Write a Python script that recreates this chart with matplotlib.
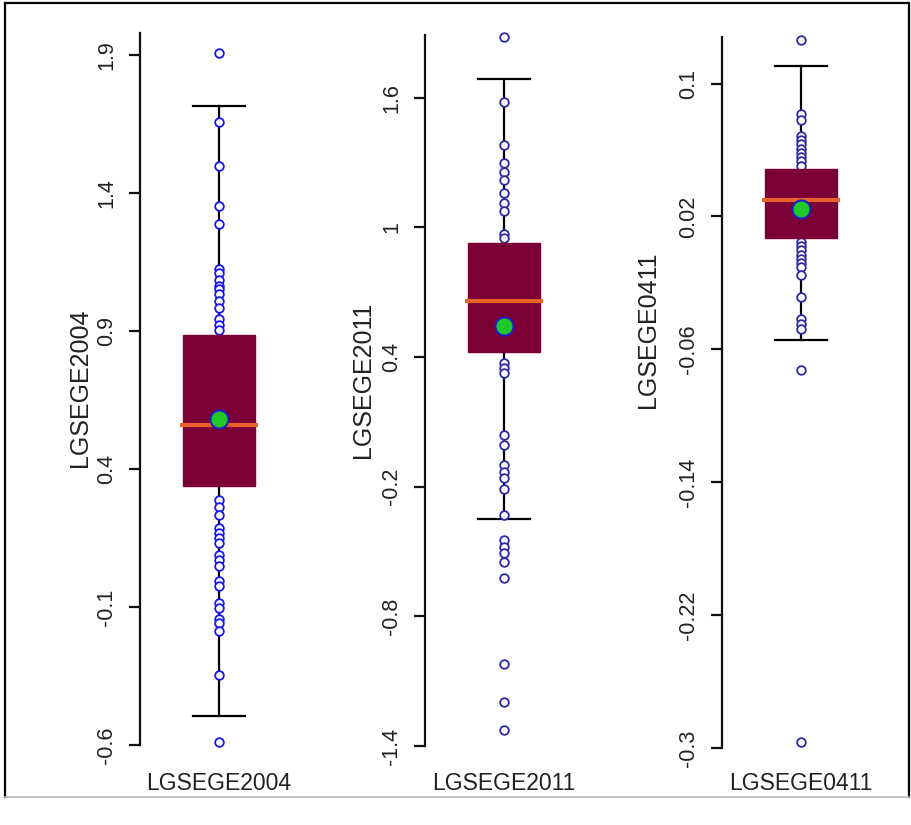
import matplotlib.pyplot as plt
from matplotlib.lines import Line2D

plt.rcParams['font.family'] = ['Liberation Sans', 'DejaVu Sans']

# series names
names = ['LGSEGE2004', 'LGSEGE2011', 'LGSEGE0411']

# box statistics
q1 = [0.337, 0.424, 0.0072]
med = [0.559, 0.657, 0.0296]
q3 = [0.887, 0.929, 0.0483]
whis_lo = [-0.494, -0.35, -0.0546]
whis_hi = [1.714, 1.687, 0.1108]
means = [0.581, 0.544, 0.0246]

# visible observations (points hidden behind the boxes are left out)
pts_2004 = [1.907, 1.657, 1.499, 1.353, 1.289, 1.124, 1.109, 1.085, 1.062, 1.051,
            1.033, 1.010, 0.985, 0.945, 0.923, 0.905, 0.286, 0.264, 0.235, 0.187,
            0.169, 0.151, 0.132, 0.089, 0.071, 0.049, -0.006, -0.024, -0.086,
            -0.104, -0.144, -0.159, -0.188, -0.348, -0.588]
pts_2011 = [1.881, 1.578, 1.382, 1.298, 1.254, 1.220, 1.159, 1.112, 1.074, 0.969,
            0.950, 0.372, 0.350, 0.327, 0.040, -0.006, -0.099, -0.130, -0.160,
            -0.211, -0.330, -0.446, -0.477, -0.508, -0.547, -0.624, -1.020,
            -1.195, -1.326]
pts_0411 = [0.126, 0.0818, 0.0783, 0.0687, 0.0661, 0.0637, 0.0607, 0.0581, 0.0557,
            0.0531, 0.0505, 0.0045, 0.0019, -0.0005, -0.003, -0.0055, -0.0081,
            -0.0105, -0.0155, -0.0286, -0.0416, -0.045, -0.0476, -0.0727, -0.2963]
points = [pts_2004, pts_2011, pts_0411]

# axis ticks and limits
yticks = [[-0.6, -0.1, 0.4, 0.9, 1.4, 1.9],
          [-1.4, -0.8, -0.2, 0.4, 1.0, 1.6],
          [-0.3, -0.22, -0.14, -0.06, 0.02, 0.1]]
ytick_labels = [['-0.6', '-0.1', '0.4', '0.9', '1.4', '1.9'],
                ['-1.4', '-0.8', '-0.2', '0.4', '1', '1.6'],
                ['-0.3', '-0.22', '-0.14', '-0.06', '0.02', '0.1']]
ylims = [(-0.6, 1.98), (-1.4, 1.89), (-0.3, 0.128)]

W, H = 912, 825
fig = plt.figure(figsize=(W / 100, H / 100), dpi=100)

# panel placement in pixels: spine x, top y, bottom y, ylabel x, ylabel centre y
panels = [(140, 33, 745, 80, 388), (425, 35, 746, 363, 380), (722, 37, 748, 648, 330)]
pw = 158

box_col = '#7B0036'
pt_cols = ['#1515F5', '#2A2AA5', '#2A2AA5']

for i, (sx, top, bot, lx, ly) in enumerate(panels):
    ax = fig.add_axes([sx / W, 1 - bot / H, pw / W, (bot - top) / H])
    ax.set_xlim(0.5, 1.5)
    ax.set_ylim(*ylims[i])

    # strip of observations on the centre line
    ax.plot([1] * len(points[i]), points[i], 'o', ms=6.2, mfc='white',
            mec=pt_cols[i], mew=1.3, zorder=3, clip_on=False)

    stats = [dict(med=med[i], q1=q1[i], q3=q3[i], whislo=whis_lo[i],
                  whishi=whis_hi[i], fliers=[])]
    ax.bxp(stats, positions=[1], widths=0.456, patch_artist=True, showfliers=False,
           boxprops=dict(facecolor=box_col, edgecolor=box_col, linewidth=1),
           whiskerprops=dict(color='black', linewidth=1.6),
           capprops=dict(color='black', linewidth=1.6),
           medianprops=dict(color='none'), capwidths=0.33)
    for art in ax.patches:
        art.set_zorder(4)
    for ln in ax.lines[1:]:
        ln.set_zorder(2)

    # median line, a bit wider than the box
    ax.plot([1 - 0.247, 1 + 0.247], [med[i], med[i]], color='#E8632A', lw=3,
            solid_capstyle='butt', zorder=5)
    # mean marker
    ax.plot([1], [means[i]], 'o', ms=13, mfc='#22C82A', mec='#2020C0', mew=1.5,
            zorder=6)

    for s in ['top', 'right', 'bottom']:
        ax.spines[s].set_visible(False)
    ax.spines['left'].set_linewidth(1.6)
    ax.spines['left'].set_color('#111111')
    ax.set_xticks([])
    ax.set_yticks(yticks[i])
    ax.set_yticklabels(ytick_labels[i])
    ax.tick_params(axis='y', length=8, width=1.6, pad=16, labelsize=15.5,
                   labelrotation=90, labelcolor='#222222', color='#111111')
    for lab in ax.get_yticklabels():
        lab.set_va('center')
        lab.set_ha('center')

    fig.text(lx / W, 1 - ly / H, names[i], rotation=90, ha='center', va='center',
             fontsize=18, color='#222222')
    fig.text((sx + 79) / W, 1 - 784 / H, names[i], ha='center', va='center',
             fontsize=16.5, color='#222222')

# outer frame of the original screenshot
fig.add_artist(Line2D([5 / W, 909 / W], [1 - 3 / H, 1 - 3 / H], color='black', lw=1.6))
fig.add_artist(Line2D([5 / W, 5 / W], [1 - 3 / H, 1 - 797 / H], color='black', lw=1.6))
fig.add_artist(Line2D([909 / W, 909 / W], [1 - 3 / H, 1 - 797 / H], color='black', lw=1.6))
fig.add_artist(Line2D([5 / W, 909 / W], [1 - 797 / H, 1 - 797 / H], color='#BBBBBB', lw=1.2))

plt.savefig('out.png', dpi=100, facecolor='white')
